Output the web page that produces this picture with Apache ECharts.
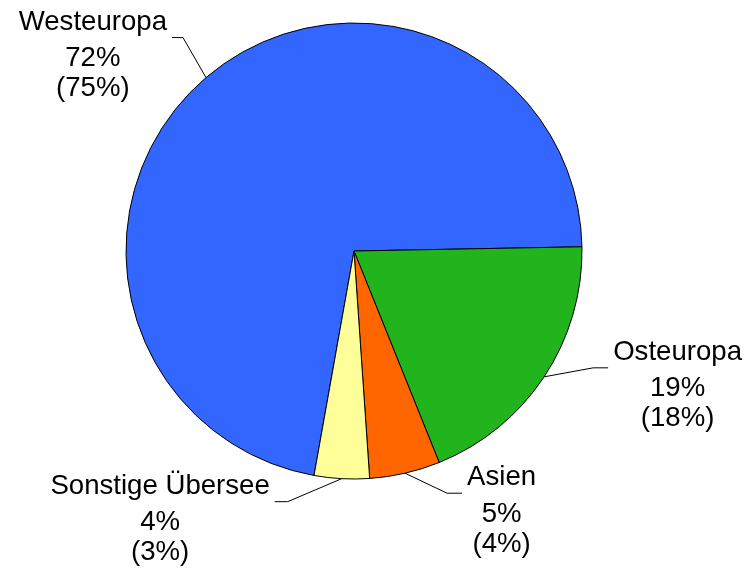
<!DOCTYPE html>
<html><head><meta charset="utf-8">
<script src="https://cdn.jsdelivr.net/npm/echarts@6/dist/echarts.min.js"></script>
<style>html,body{margin:0;padding:0;background:#fff}#c{width:751px;height:568px}</style>
</head><body><div id="c"></div>
<script>
const categories = ['Westeuropa', 'Osteuropa', 'Asien', 'Sonstige Übersee'];
const shares = [71.9, 19.2, 5.0, 3.9];
const sharesPrev = [75, 18, 4, 3];
const colors = ['#3366FF', '#22B41C', '#FF6600', '#FFFF99'];
// label-line styling: elbow offset from slice edge, and horizontal tail length
const elbowOffsets = [[-23, -40], [49, -9], [42, 20], [-54, 23]];
const tailLengths = [11, 15, 15, 13];

const FONT = "'Liberation Sans', Arial, sans-serif";
const chart = echarts.init(document.getElementById('c'), null, {renderer: 'canvas'});
chart.setOption({
  animation: false,
  series: [{
    type: 'pie',
    center: [354, 251],
    radius: 228,
    startAngle: 259.9,
    clockwise: true,
    avoidLabelOverlap: false,
    emphasis: {disabled: true},
    data: categories.map((n, i) => ({name: n, value: shares[i], itemStyle: {color: colors[i]}})),
    itemStyle: {borderColor: '#000', borderWidth: 1},
    label: {
      show: true,
      position: 'outside',
      padding: [29, 0, 0, 0],
      formatter: p => '{n|' + p.name + '}\n{p|' + Math.round(p.value) + '%}\n{p|(' + sharesPrev[p.dataIndex] + '%)}',
      rich: {
        n: {fontFamily: FONT, fontSize: 27.6, lineHeight: 43, align: 'center', color: '#000'},
        p: {fontFamily: FONT, fontSize: 27.6, lineHeight: 30, align: 'center', color: '#000'}
      }
    },
    labelLine: {show: true, length: 20, length2: 10, lineStyle: {color: '#000', width: 1}},
    labelLayout: function (params) {
      const i = params.dataIndex;
      const e = params.labelLinePoints[0];
      const off = elbowOffsets[i];
      const elbow = [e[0] + off[0], e[1] + off[1]];
      const dir = off[0] < 0 ? -1 : 1;
      const end = [elbow[0] + dir * tailLengths[i], elbow[1]];
      return {
        x: end[0] + dir * 5,
        y: end[1],
        align: dir < 0 ? 'right' : 'left',
        verticalAlign: 'middle',
        labelLinePoints: [e, elbow, end]
      };
    }
  }]
});
</script>
</body></html>
